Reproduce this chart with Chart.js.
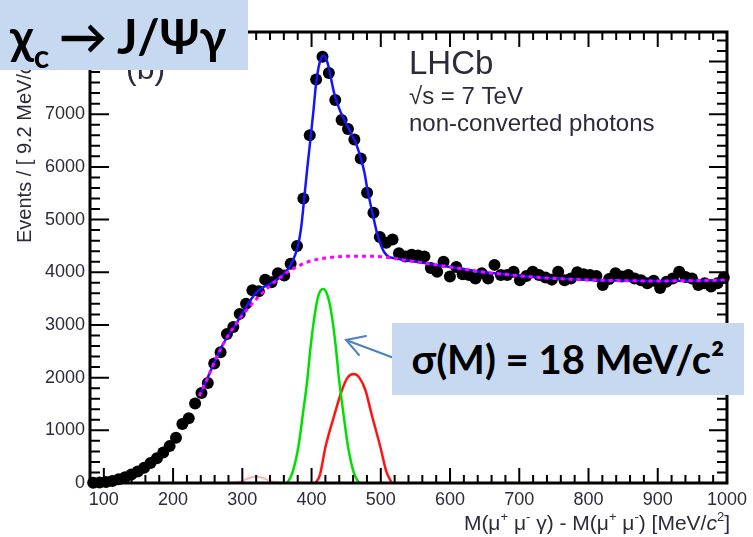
<!DOCTYPE html>
<html>
<head>
<meta charset="utf-8">
<script src="https://cdn.jsdelivr.net/npm/chart.js@4.4.1/dist/chart.umd.min.js"></script>
<style>
  html, body { margin: 0; padding: 0; background: #fff; }
  #wrap { position: relative; width: 753px; height: 537px; overflow: hidden; }
  #plot { position: absolute; left: 0; top: 0; }
  #arrow { position: absolute; left: 0; top: 0; }
  .note { position: absolute; background: #c6d9f1; color: #000; white-space: nowrap;
          font-family: Lato, "Open Sans", sans-serif; font-weight: bold; box-sizing: border-box; }
  #title { left: 0; top: 0; width: 248px; height: 70px; font-size: 48px; line-height: 48px; padding: 12px 0 0 10px; }
  #title sub { font-size: 32px; vertical-align: -14px; line-height: 0; margin-right: 10px; }
  #title .arr { margin-right: 10px; }
  #sigma { left: 392px; top: 323px; width: 352px; height: 72px; font-size: 40px; line-height: 72px; text-align: center; }
</style>
</head>
<body>
<div id="wrap">
  <canvas id="plot" width="753" height="537"></canvas>
  <svg id="arrow" width="753" height="537">
    <g stroke="#4f81bd" stroke-width="2" fill="none" stroke-linecap="round">
      <line x1="394" y1="358" x2="346" y2="340"/>
      <polyline points="366,336 346,340 359,355"/>
    </g>
  </svg>
  <div class="note" id="title">χ<sub>c</sub><span class="arr">→</span>J/Ψγ</div>
  <div class="note" id="sigma">σ(M) = 18 MeV/c²</div>
</div>
<script>
// histogram bins (9.2 MeV wide, 80 - 1000 MeV)
const massBins = [
  84.6, 93.8, 103.0, 112.2, 121.4, 130.6, 139.8, 149.0, 158.2, 167.4,
  176.6, 185.8, 195.0, 204.2, 213.4, 222.6, 231.8, 241.0, 250.2, 259.4,
  268.6, 277.8, 287.0, 296.2, 305.4, 314.6, 323.8, 333.0, 342.2, 351.4,
  360.6, 369.8, 379.0, 388.2, 397.4, 406.6, 415.8, 425.0, 434.2, 443.4,
  452.6, 461.8, 471.0, 480.2, 489.4, 498.6, 507.8, 517.0, 526.2, 535.4,
  544.6, 553.8, 563.0, 572.2, 581.4, 590.6, 599.8, 609.0, 618.2, 627.4,
  636.6, 645.8, 655.0, 664.2, 673.4, 682.6, 691.8, 701.0, 710.2, 719.4,
  728.6, 737.8, 747.0, 756.2, 765.4, 774.6, 783.8, 793.0, 802.2, 811.4,
  820.6, 829.8, 839.0, 848.2, 857.4, 866.6, 875.8, 885.0, 894.2, 903.4,
  912.6, 921.8, 931.0, 940.2, 949.4, 958.6, 967.8, 977.0, 986.2, 995.4
];
const eventCounts = [
  5, 10, 20, 40, 70, 110, 160, 220, 290, 380,
  470, 580, 700, 860, 1120, 1230, 1510, 1710, 1900, 2270,
  2480, 2830, 2960, 3210, 3400, 3660, 3640, 3860, 3810, 3980,
  3940, 4160, 4500, 5400, 6600, 7660, 8090, 7780, 7270, 6890,
  6720, 6520, 6160, 5510, 5130, 4670, 4560, 4620, 4360, 4300,
  4330, 4320, 4300, 4080, 4010, 4200, 3920, 4100, 3960, 3950,
  3880, 3980, 3880, 4140, 3950, 3950, 4010, 3850, 3930, 4010,
  3950, 3900, 3860, 4010, 3850, 3880, 4000, 3960, 3950, 3930,
  3760, 3870, 3980, 3920, 3950, 3880, 3850, 3790, 3840, 3700,
  3820, 3880, 4010, 3910, 3880, 3760, 3790, 3730, 3790, 3900
];

// total fit (blue)
const totalFitX = [238, 250, 260, 270, 280, 290, 300, 310, 320, 330, 340, 350, 360, 370, 375, 380, 385, 389, 394, 399,
  403, 406, 410, 414, 417, 421, 425, 429, 433, 439, 444, 449, 454, 458, 463, 468, 473, 477, 480, 485,
  490, 495, 500, 505, 511, 520, 540, 560, 580, 600, 620, 650, 680, 710, 740, 770, 800, 850, 900, 950, 1000];
const totalFitY = [1650, 2000, 2300, 2580, 2810, 3000, 3220, 3435, 3615, 3715, 3780, 3860, 3970, 4140, 4290, 4480, 4850, 5350, 6000, 6600,
  7100, 7520, 7880, 8070, 8110, 8050, 7880, 7620, 7380, 7140, 6980, 6850, 6720, 6610, 6480, 6300, 6080, 5850, 5620, 5300,
  5000, 4720, 4520, 4380, 4300, 4265, 4220, 4180, 4140, 4100, 4060, 4000, 3960, 3920, 3890, 3870, 3855, 3840, 3835, 3840, 3850];

// combinatorial background (magenta dashed)
const bkgFitX = [238, 250, 260, 270, 280, 290, 300, 310, 320, 330, 340, 350, 360, 370, 380, 390, 400, 420, 440, 460,
  480, 500, 520, 540, 560, 580, 600, 620, 650, 680, 710, 740, 770, 800, 850, 900, 950, 1000];
const bkgFitY = [1650, 2000, 2300, 2580, 2810, 3000, 3180, 3340, 3490, 3620, 3740, 3850, 3950, 4040, 4110, 4170, 4220, 4270, 4295, 4305,
  4305, 4295, 4260, 4220, 4180, 4140, 4100, 4060, 4000, 3960, 3920, 3890, 3870, 3855, 3840, 3835, 3840, 3850];

// chi_c1 (green), chi_c2 (red), chi_c0 (faint red)
const chic1X = [365, 372, 381, 387.6, 393.8, 398.6, 404.9, 410, 416.8, 423, 428.7, 435, 439.8, 446, 452.7, 461.3, 468.6];
const chic1Y = [0, 183, 689, 1322, 1954, 2586, 3220, 3560, 3680, 3560, 3220, 2586, 1954, 1322, 689, 183, 0];
const chic2X = [405.9, 412, 420.2, 433.6, 444, 452, 460.9, 469, 477.7, 486.4, 499.3, 508, 516];
const chic2Y = [0, 150, 689, 1322, 1765, 2000, 2068, 2000, 1765, 1322, 689, 220, 0];
const chic0X = [285, 300, 310, 320, 330, 340, 357];
const chic0Y = [0, 40, 95, 125, 95, 40, 0];

const xTickValues = [100, 200, 300, 400, 500, 600, 700, 800, 900, 1000];
const yTickValues = [0, 1000, 2000, 3000, 4000, 5000, 6000, 7000, 8000];

const pts = (xs, ys) => xs.map((v, i) => ({ x: v, y: ys[i] }));
const ink = '#2d2b3b';
const helv = 'Arial, "Liberation Sans", Helvetica, sans-serif';

function curve(label, xs, ys, color, width, order, dash) {
  return {
    label: label,
    data: pts(xs, ys),
    showLine: true,
    borderColor: color,
    borderWidth: width,
    borderDash: dash || [],
    pointRadius: 0,
    fill: false,
    cubicInterpolationMode: 'monotone',
    order: order
  };
}

function drawRich(ctx, parts, x, y, align) {
  let total = 0;
  parts.forEach(p => { ctx.font = p[1]; total += ctx.measureText(p[0]).width; });
  let cx = align === 'right' ? x - total : x;
  parts.forEach(p => {
    ctx.font = p[1];
    ctx.fillText(p[0], cx, y + (p[2] || 0));
    cx += ctx.measureText(p[0]).width;
  });
}

const rootFrame = {
  id: 'rootFrame',
  afterDraw(chart) {
    const ctx = chart.ctx;
    const a = chart.chartArea;
    const xs = chart.scales.x, ys = chart.scales.y;
    ctx.save();
    ctx.strokeStyle = '#000';
    ctx.lineWidth = 2;
    ctx.beginPath();
    for (let v = 0; v <= ys.max; v += 200) {
      const py = ys.getPixelForValue(v);
      const major = v % 1000 === 0;
      ctx.moveTo(a.left, py); ctx.lineTo(a.left + (major ? 19 : 10), py);
      ctx.moveTo(a.right, py); ctx.lineTo(a.right - (major ? 18 : 10), py);
    }
    for (let v = 80; v <= 1000; v += 20) {
      const px = xs.getPixelForValue(v);
      const major = v % 100 === 0;
      ctx.moveTo(px, a.bottom); ctx.lineTo(px, a.bottom - (major ? 15 : 8));
      ctx.moveTo(px, a.top); ctx.lineTo(px, a.top + (major ? 15 : 8));
    }
    ctx.stroke();
    ctx.lineWidth = 3;
    ctx.strokeRect(a.left, a.top, a.right - a.left, a.bottom - a.top);

    // labels inside the frame
    ctx.fillStyle = ink;
    ctx.textBaseline = 'alphabetic';
    ctx.textAlign = 'left';
    ctx.font = '32px ' + helv;
    ctx.fillText('(b)', 126, 79);
    ctx.font = '33px ' + helv;
    ctx.fillText('LHCb', 409, 74);
    ctx.font = '24px ' + helv;
    ctx.fillText('\u221As = 7 TeV', 409, 104);
    ctx.fillText('non-converted photons', 409, 131);

    // axis titles
    const big = '21px ' + helv, itl = 'italic 21px ' + helv, sup = '13px ' + helv;
    drawRich(ctx, [['M(\u03bc', big], ['+', sup, -9], [' \u03bc', big], ['-', sup, -9], [' \u03b3) - M(\u03bc', big],
      ['+', sup, -9], [' \u03bc', big], ['-', sup, -9], [') [MeV/', big], ['c', itl], ['2', sup, -9], [']', big]], 730, 530, 'right');

    ctx.translate(31, 243);
    ctx.rotate(-Math.PI / 2);
    const yb = '20px ' + helv;
    drawRich(ctx, [['Events / [ 9.2 MeV/', yb], ['c', 'italic 20px ' + helv], ['2', '13px ' + helv, -8], [' ]', yb]], 0, 0, 'left');
    ctx.restore();
  }
};

new Chart(document.getElementById('plot').getContext('2d'), {
  type: 'scatter',
  data: {
    datasets: [
      curve('Background', bkgFitX, bkgFitY, '#ff00ff', 3, 0, [4, 4]),
      curve('Total fit', totalFitX, totalFitY, '#1414ff', 2.5, 1),
      curve('chi_c1', chic1X, chic1Y, '#00e000', 2.5, 2),
      curve('chi_c2', chic2X, chic2Y, '#ff1414', 2.5, 2),
      curve('chi_c0', chic0X, chic0Y, '#ffb4b4', 2, 3),
      {
        label: 'Data',
        data: pts(massBins, eventCounts),
        showLine: false,
        pointRadius: 6,
        pointBackgroundColor: '#000',
        pointBorderWidth: 0,
        clip: 8,
        order: 5
      }
    ]
  },
  options: {
    responsive: false,
    animation: false,
    devicePixelRatio: 1,
    layout: { padding: { left: 0, top: 32, right: 23, bottom: 0 } },
    plugins: { legend: { display: false }, tooltip: { enabled: false } },
    scales: {
      x: {
        type: 'linear', min: 80, max: 1000,
        grid: { display: false, drawTicks: false },
        border: { display: false },
        afterBuildTicks: s => { s.ticks = xTickValues.map(v => ({ value: v })); },
        afterFit: s => { s.height = 54; },
        ticks: { color: ink, padding: 6, maxRotation: 0, autoSkip: false, font: { family: helv, size: 18 },
                 callback: v => String(v) }
      },
      y: {
        min: 0, max: 8560,
        grid: { display: false, drawTicks: false },
        border: { display: false },
        afterBuildTicks: s => { s.ticks = yTickValues.map(v => ({ value: v })); },
        afterFit: s => { s.width = 90; },
        ticks: { color: ink, padding: 5, autoSkip: false, font: { family: helv, size: 18 },
                 callback: v => String(v) }
      }
    }
  },
  plugins: [rootFrame]
});
</script>
</body>
</html>
